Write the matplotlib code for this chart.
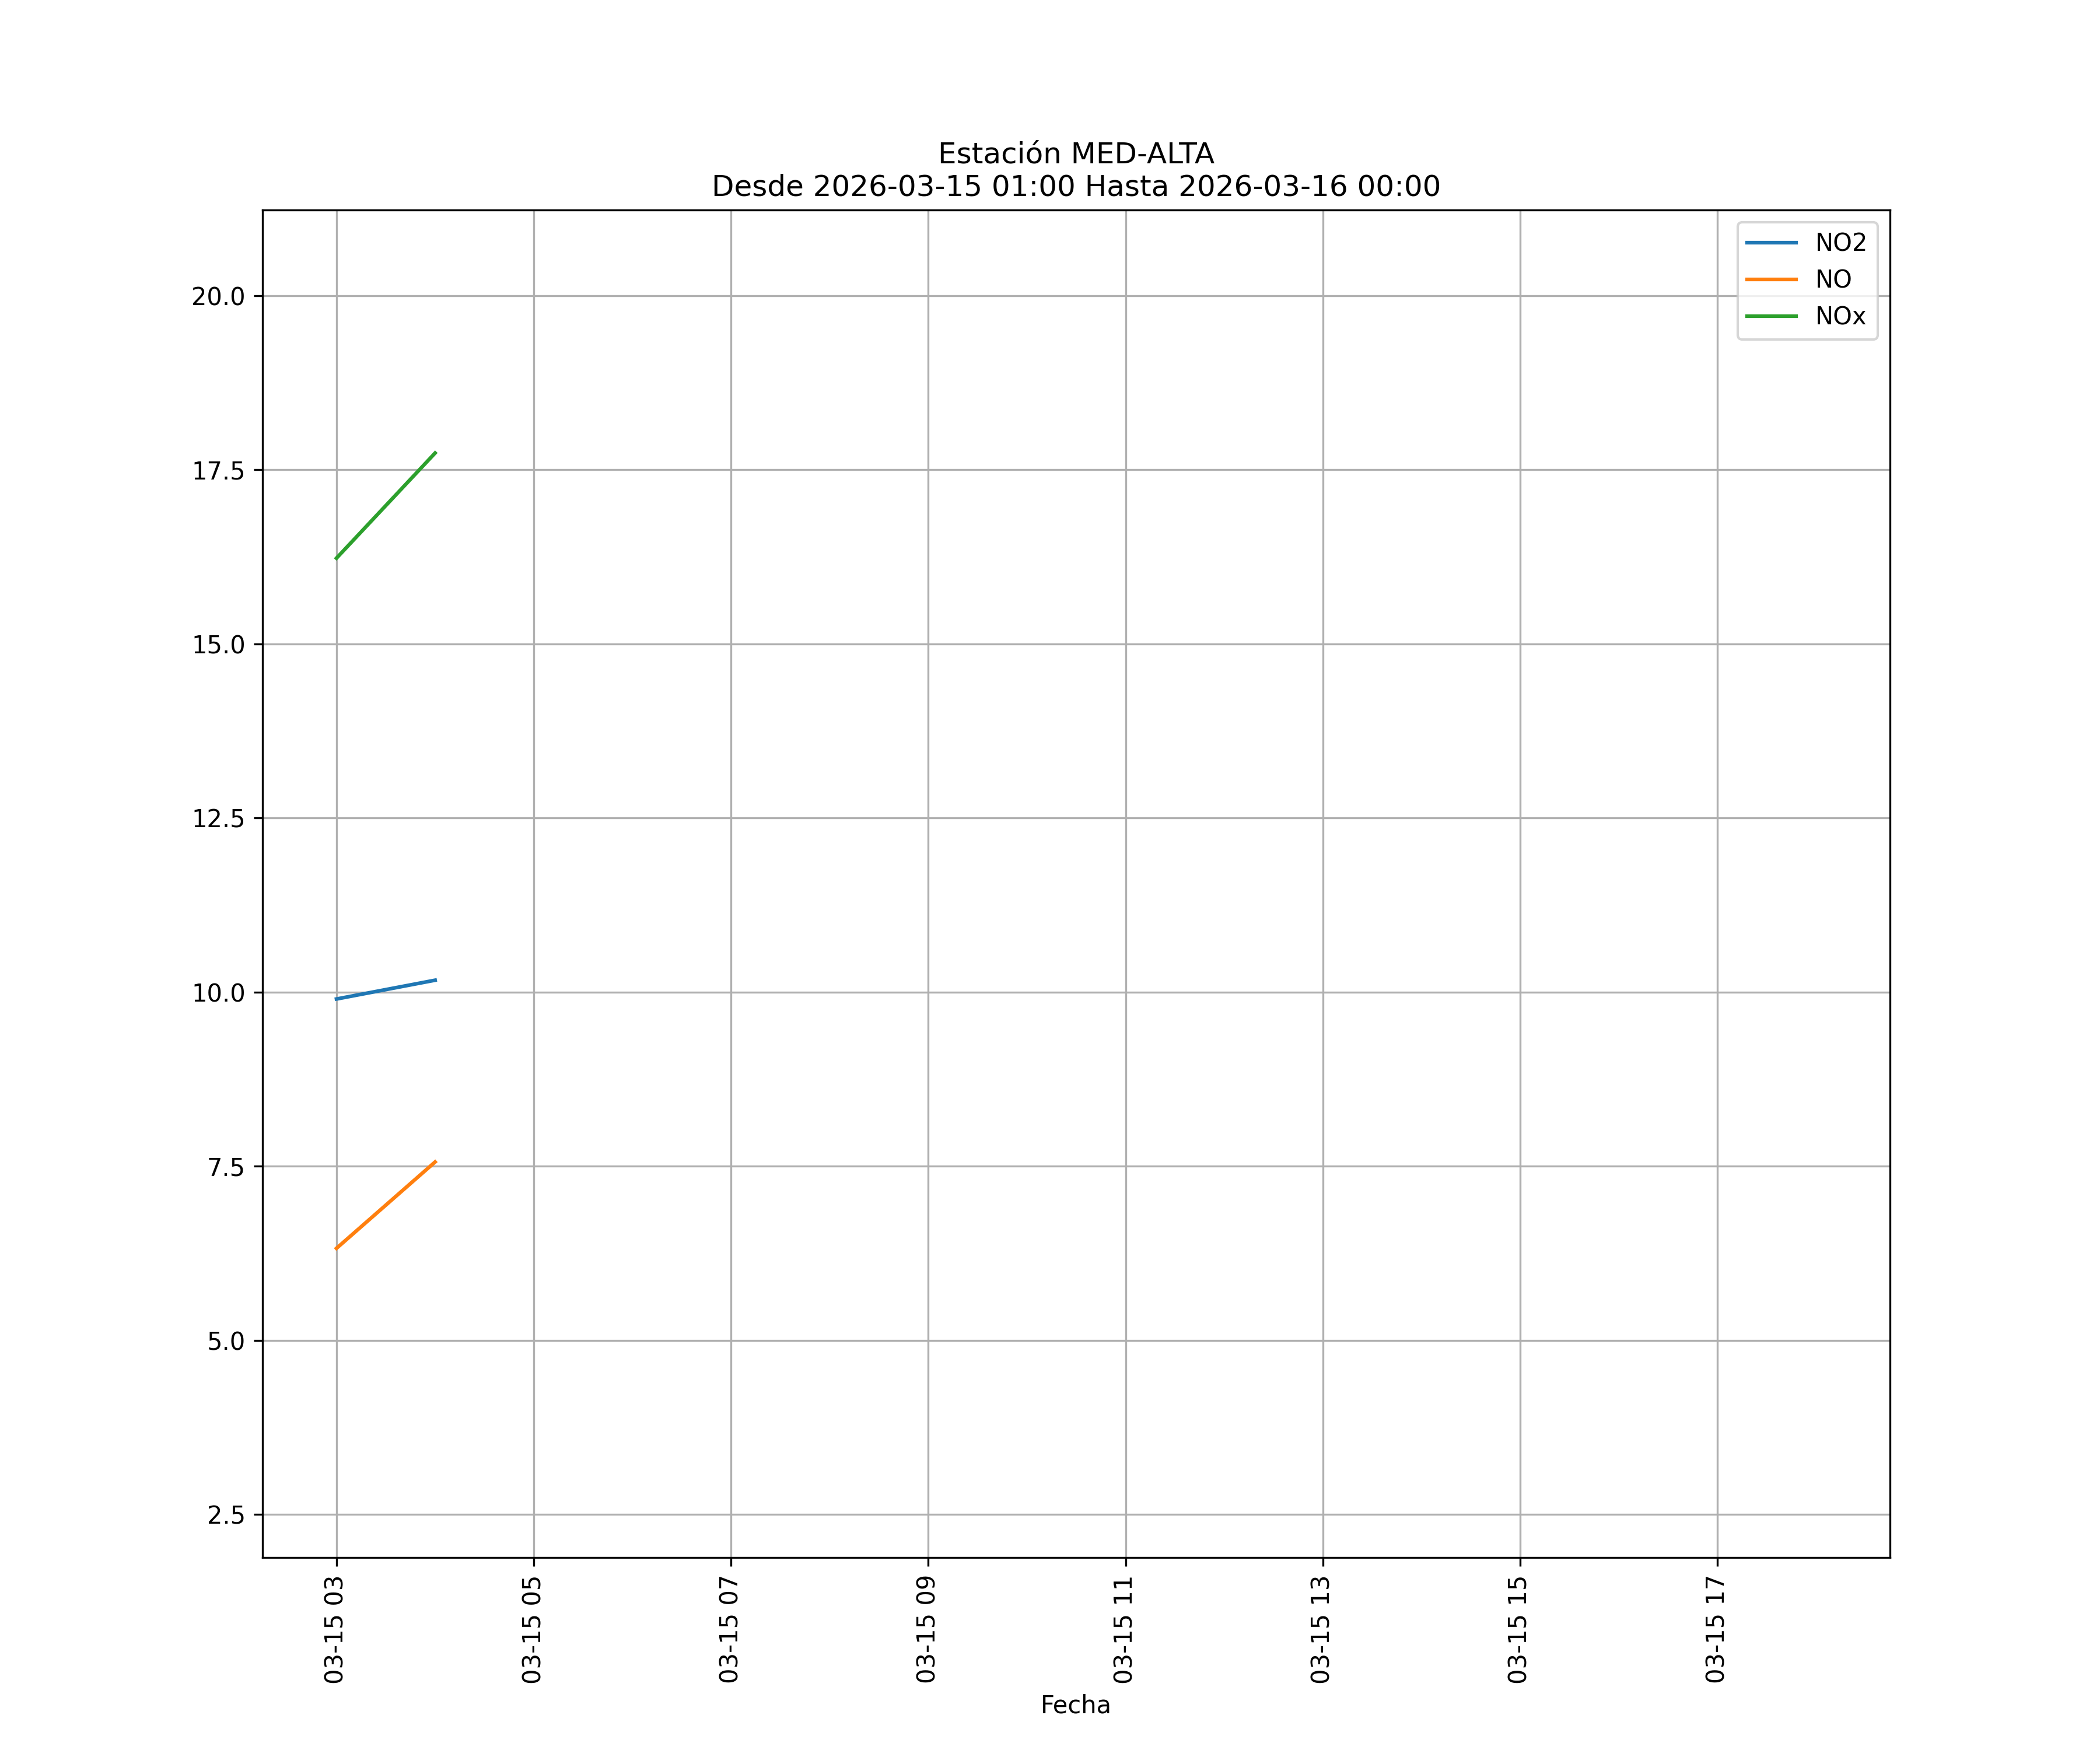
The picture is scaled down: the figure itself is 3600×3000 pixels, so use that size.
import matplotlib
matplotlib.use("Agg")
import matplotlib.pyplot as plt
import matplotlib.dates as mdates
import numpy as np
import pandas as pd

# Hourly timestamps (values missing for most hours)
fechas = pd.date_range("2026-03-15 03:00", "2026-03-15 18:00", freq="h")
nan = np.nan
no2 = [9.90, 10.17, nan, nan, nan, nan, nan, nan, nan, nan, nan, nan, nan, nan, nan, 17.59]
no = [6.32, 7.56, nan, nan, nan, nan, nan, nan, nan, nan, nan, nan, nan, nan, nan, 2.76]
nox = [16.23, 17.74, nan, nan, nan, nan, nan, nan, nan, nan, nan, nan, nan, nan, nan, 20.35]
tick_fechas = fechas[::2]

fig, ax = plt.subplots(figsize=(12, 10), dpi=300)
ax.plot(fechas, no2, label="NO2")
ax.plot(fechas, no, label="NO")
ax.plot(fechas, nox, label="NOx")
ax.set_xticks(tick_fechas)
ax.xaxis.set_major_formatter(mdates.DateFormatter("%m-%d %H"))
plt.setp(ax.get_xticklabels(), rotation=90)
ax.grid(True)
ax.legend(loc="upper right")
ax.set_xlabel("Fecha")
ax.set_title("Estación MED-ALTA\nDesde 2026-03-15 01:00 Hasta 2026-03-16 00:00")
fig.savefig("out.png", dpi=300)
